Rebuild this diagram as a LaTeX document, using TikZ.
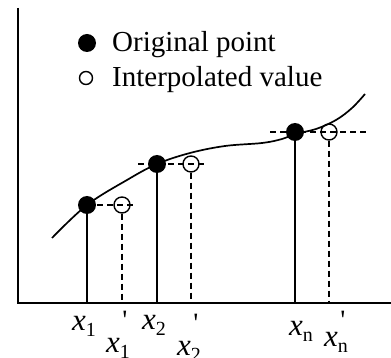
\documentclass[tikz,border=0pt]{standalone}
\usepackage{fontspec}
\setmainfont{Liberation Serif}
\usetikzlibrary{calc,positioning}
\tikzset{
  dot/.style={circle, fill=black, inner sep=0pt, minimum size=18pt},
  hollow/.style={circle, draw=black, line width=1.4pt, inner sep=0pt, minimum size=16pt},
  axisline/.style={line width=1.8pt},
  stem/.style={line width=1.7pt},
  guide/.style={line width=1.5pt, dash pattern=on 6pt off 4pt},
  lab/.style={font=\fontsize{29}{34}\selectfont, inner sep=0pt, anchor=base west},
  xlab/.style={lab, font=\fontsize{31}{34}\selectfont}
}
% x with a lowered index, and the same with a tick over the index
\newcommand{\xl}[1]{\textit{x}\raisebox{-6pt}{\fontsize{20}{20}\selectfont #1}}
\newcommand{\xp}[2][29pt]{\textit{x}\raisebox{-6pt}{\fontsize{20}{20}\selectfont
  \setbox0\hbox{#2}\rlap{\hbox to\wd0{\hss\raisebox{#1}{\fontsize{28}{28}\selectfont\textquotesingle}\hss}}\box0}}

\begin{document}
\begin{tikzpicture}[x=1pt, y=-1pt]
  \useasboundingbox (0,0) rectangle (391,358);
  % axes
  \coordinate (o) at (18,303);
  \draw[axisline] (18,8) -- (o) -- (391,303);

  % legend
  \node[dot, minimum size=18pt] (ldot) at (87,43) {};
  \node[hollow, minimum size=13pt] (lhol) at (86,78) {};
  \node[lab] (ltxt1) at (112,52) {Original point};
  \node[lab] (ltxt2) at (112,87) {Interpolated value};

  % curve
  \draw[line width=1.7pt] plot[smooth, tension=0.6] coordinates {
    (52,238) (87,205) (127,180) (157,164) (190,153) (225,146)
    (262,143) (282,139) (295,134) (316,129) (336,120) (352,108) (365,94)};

  % sample points
  \foreach \i/\px/\qx/\py in {1/87/122/205, 2/157/191/164, n/295/329/132}{
    \node[dot] (p\i) at (\px,\py) {};
    \node[hollow] (q\i) at (\qx,\py) {};
  }

  % level lines
  \draw[guide] (p1.center) -- ($(q1.east)+(2,0)$);
  \draw[guide] ($(p2.center)+(-19,0)$) -- ($(q2.east)+(7,0)$);
  \draw[guide] ($(pn.center)+(-25,0)$) -- ($(qn.east)+(28,0)$);

  % stems
  \foreach \i in {1,2,n}{
    \draw[stem] (p\i.center) -- (p\i |- o);
    \draw[guide] (q\i.south) -- (q\i |- o);
  }

  % axis labels
  \node[xlab] (t1) at (72,330) {\xl{1}};
  \node[xlab] (t2) at (142,329) {\xl{2}};
  \node[xlab] (tn) at (289,335) {\xl{n}};
  \node[xlab] (u1) at (106,352) {\xp{1}};
  \node[xlab] (u2) at (177,355) {\xp{2}};
  \node[xlab] (un) at (324,346) {\xp[23pt]{n}};
\end{tikzpicture}
\end{document}
